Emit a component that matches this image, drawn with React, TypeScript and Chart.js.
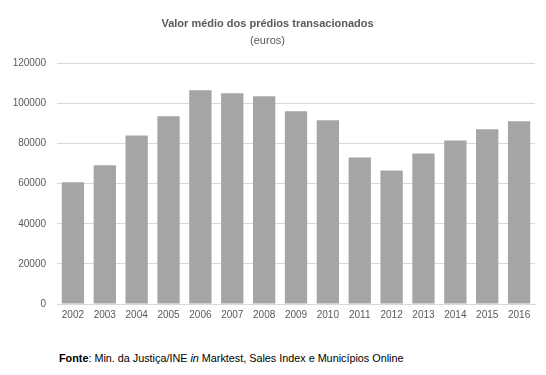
import React, { useEffect, useRef } from "react";
import { Chart, registerables } from "chart.js";

Chart.register(...registerables);

const years = ["2002","2003","2004","2005","2006","2007","2008","2009","2010","2011","2012","2013","2014","2015","2016"];
const values = [60700,69200,84100,93700,106600,105100,103600,96100,91600,73100,66600,75100,81600,87100,91100];
const yTicks = [0, 20000, 40000, 60000, 80000, 100000, 120000];
const titleText = "Valor médio dos prédios transacionados";
const subtitleText = "(euros)";

const FONT = "'Liberation Sans', Arial, sans-serif";

export default function App() {
  const ref = useRef<HTMLCanvasElement | null>(null);
  useEffect(() => {
    document.body.style.margin = "0";
    const chart = new Chart(ref.current!, {
      type: "bar",
      data: {
        labels: years,
        datasets: [{ data: values, backgroundColor: "#a5a5a5", categoryPercentage: 1, barPercentage: 0.7 }],
      },
      options: {
        animation: false,
        responsive: false,
        layout: { padding: { left: 0, right: 11, top: 0, bottom: 0 } },
        plugins: {
          legend: { display: false },
          tooltip: { enabled: false },
          title: {
            display: true, text: titleText, color: "#595959",
            font: { family: FONT, size: 11, weight: "bold" },
            padding: { top: 17, bottom: 4 },
          },
          subtitle: {
            display: true, text: subtitleText, color: "#595959",
            font: { family: FONT, size: 11 },
            padding: { top: 0, bottom: 16 },
          },
        },
        scales: {
          x: {
            grid: { display: false, drawTicks: false },
            border: { color: "#d9d9d9" },
            ticks: { color: "#595959", font: { family: FONT, size: 10 }, maxRotation: 0, padding: 5 },
          },
          y: {
            min: 0, max: 120000,
            afterFit: (s: any) => { s.width = 57; },
            afterBuildTicks: (s: any) => { s.ticks = yTicks.map((v) => ({ value: v })); },
            grid: { color: "#d9d9d9", drawTicks: false },
            border: { display: false },
            ticks: { color: "#595959", font: { family: FONT, size: 10 }, padding: 11, callback: (v: any) => String(v) },
          },
        },
      },
    });
    return () => chart.destroy();
  }, []);
  return (
    <div style={{ position: "relative", width: 546, height: 375, background: "#fff" }}>
      <canvas ref={ref} width={546} height={326} style={{ display: "block" }} />
      <div style={{ position: "absolute", left: 59, top: 352, fontFamily: FONT, fontSize: 10.8, color: "#000", whiteSpace: "nowrap" }}>
        <b>Fonte</b>: Min. da Justiça/INE <i>in</i> Marktest, Sales Index e Municípios Online
      </div>
    </div>
  );
}
